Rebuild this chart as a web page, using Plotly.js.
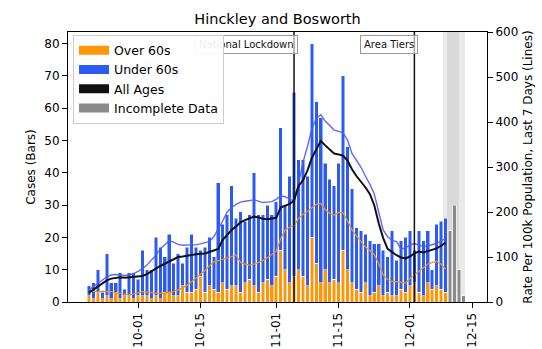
<!DOCTYPE html>
<html>
<head>
<meta charset="utf-8">
<script src="https://cdn.plot.ly/plotly-3.0.1.min.js"></script>
<style>
  html, body { margin: 0; padding: 0; background: #fff; }
  #chart { width: 542px; height: 349px; }
</style>
</head>
<body>
<div id="chart"></div>
<script>
// ---- Data ----
const firstDate = '2020-09-20';          // first complete day of data
const chartTitle = 'Hinckley and Bosworth';

// Daily cases, over 60s (bars, left axis)
const over60Cases = [2,1,3,1,2,1,3,1,2,2,1,2,2,2,1,2,1,3,3,2,2,5,3,3,4,8,3,5,4,3,
  6,4,5,5,3,6,7,5,3,6,7,5,8,16,10,6,8,10,8,5,20,12,6,10,6,7,6,16,10,6,
  4,3,6,2,3,5,2,3,2,2,4,3,5,6,3,2,6,4,5,4,3];

// Daily cases, under 60s (bars, left axis)
const under60Cases = [3,5,7,2,13,5,3,8,2,7,8,5,14,8,9,18,16,11,18,10,13,7,14,18,13,8,14,15,10,34,
  18,23,31,21,25,19,20,35,24,21,23,22,23,38,20,33,57,34,36,34,60,50,51,33,32,29,37,54,38,29,
  19,19,15,17,15,13,14,11,20,11,15,17,17,10,19,17,16,6,19,21,23];

// Incomplete data (grey bars, left axis)
const incompleteStart = '2020-12-10';
const incompleteCases = [22, 30, 10, 2];

// Rate per 100k population, last 7 days (lines, right axis)
const rateOver60 = [23,24,22,24,23,23,21,19,17,16,18,21,23,22,21,20,19,20,22,23,27,32,37,45,53,60,70,80,89,92,
  95,97,101,104,88,84,82,84,88,92,98,105,113,140,160,166,170,185,195,201,210,217,219,205,197,193,199,198,180,160,
  147,135,122,115,105,85,60,50,46,45,43,42,52,60,67,74,84,88,90,84,73];
const rateUnder60 = [27,34,42,50,56,60,61,60,59,60,63,68,74,82,92,104,118,128,136,133,128,126,127,127,127,129,132,134,145,162,
  180,200,210,217,222,224,226,227,224,221,222,223,228,236,234,229,224,262,310,345,385,408,416,402,392,382,379,376,360,330,
  315,300,280,262,240,200,160,145,137,134,118,120,127,130,127,123,125,127,130,136,141];
const rateAllAges = [21,28,36,42,48,52,53,55,54,55,56,56,58,62,68,75,80,85,90,95,100,101,103,104,106,107,108,111,114,118,
  138,150,160,168,177,182,186,190,188,185,184,185,187,210,214,218,225,258,270,292,320,340,358,348,338,330,328,325,314,295,
  280,268,255,240,215,175,142,118,110,104,99,97,101,108,112,110,113,116,119,125,132];

// Events (vertical lines)
const eventDates  = ['2020-11-05', '2020-12-02'];
const eventLabels = ['National Lockdown', 'Area Tiers'];

// Axis ticks
const xTickVals = ['2020-10-01','2020-10-15','2020-11-01','2020-11-15','2020-12-01','2020-12-15'];
const xTickText = ['10-01','10-15','11-01','11-15','12-01','12-15'];
const yTickVals = [0,10,20,30,40,50,60,70,80];
const y2TickVals = [0,100,200,300,400,500,600];

// ---- Helpers ----
function dateSeq(start, n) {
  const out = [];
  const d0 = new Date(start + 'T00:00:00Z');
  for (let i = 0; i < n; i++) {
    const d = new Date(d0.getTime() + i * 86400000);
    out.push(d.toISOString().slice(0, 10));
  }
  return out;
}
const dates = dateSeq(firstDate, over60Cases.length);
const incDates = dateSeq(incompleteStart, incompleteCases.length);

const DAY = 86400000;
const FONT = 'DejaVu Sans, Liberation Sans, sans-serif';
const ORANGE = '#ff960a';
const BLUE = '#2d5af0';
const GREY = '#8a8a8a';

const barStyle = { line: { color: '#ffffff', width: 0.5 } };

const traces = [
  { type: 'bar', x: dates, y: over60Cases, name: 'Over 60s', showlegend: false,
    marker: Object.assign({ color: ORANGE }, barStyle), width: 0.8 * DAY, yaxis: 'y' },
  { type: 'bar', x: dates, y: under60Cases, name: 'Under 60s', showlegend: false,
    marker: Object.assign({ color: BLUE }, barStyle), width: 0.8 * DAY, yaxis: 'y' },
  { type: 'bar', x: incDates, y: incompleteCases, name: 'Incomplete Data', showlegend: false,
    marker: Object.assign({ color: GREY }, barStyle), width: 0.8 * DAY, yaxis: 'y' },
  { type: 'scatter', mode: 'lines', x: dates, y: rateOver60, name: 'Over 60s rate', showlegend: false,
    line: { color: '#ec9410', width: 1.3 }, yaxis: 'y2' },
  { type: 'scatter', mode: 'lines', x: dates, y: rateUnder60, name: 'Under 60s rate', showlegend: false,
    line: { color: 'rgba(80,90,240,0.9)', width: 1.4 }, yaxis: 'y2' },
  { type: 'scatter', mode: 'lines', x: dates, y: rateAllAges, name: 'All Ages', showlegend: false,
    line: { color: '#111111', width: 2 }, yaxis: 'y2' },
  // legend entries (patch-style keys, as in the original)
  { type: 'scatter', mode: 'lines', x: [null], y: [null], name: 'Over 60s', line: { color: ORANGE, width: 9 }, yaxis: 'y2', hoverinfo: 'skip' },
  { type: 'scatter', mode: 'lines', x: [null], y: [null], name: 'Under 60s', line: { color: BLUE, width: 9 }, yaxis: 'y2', hoverinfo: 'skip' },
  { type: 'scatter', mode: 'lines', x: [null], y: [null], name: 'All Ages', line: { color: '#111111', width: 9 }, yaxis: 'y2', hoverinfo: 'skip' },
  { type: 'scatter', mode: 'lines', x: [null], y: [null], name: 'Incomplete Data', line: { color: GREY, width: 9 }, yaxis: 'y2', hoverinfo: 'skip' }
];

const shapes = [
  // shaded band marking incomplete data
  { type: 'rect', xref: 'x', yref: 'paper', x0: '2020-12-08 10:00', x1: '2020-12-13 08:00', y0: 0, y1: 1,
    fillcolor: 'rgba(150,150,150,0.2)', line: { width: 0 }, layer: 'below' },
  { type: 'rect', xref: 'x', yref: 'paper', x0: '2020-12-09 08:00', x1: '2020-12-12 00:00', y0: 0, y1: 1,
    fillcolor: 'rgba(150,150,150,0.2)', line: { width: 0 }, layer: 'below' }
];
const annotations = [];
eventDates.forEach((d, k) => {
  shapes.push({ type: 'line', xref: 'x', yref: 'paper', x0: d, x1: d, y0: 0, y1: 1,
    line: { color: '#111', width: 1.5 }, layer: 'above' });
  annotations.push({ xref: 'x', yref: 'paper', x: d, y: 1, xanchor: 'right', yanchor: 'top',
    xshift: 4, yshift: -3, text: eventLabels[k], showarrow: false,
    font: { family: FONT, size: 10, color: '#111' },
    bgcolor: 'rgba(255,255,255,0.6)', bordercolor: '#999', borderwidth: 1, borderpad: 3 });
});

const layout = {
  width: 542, height: 349,
  margin: { l: 68, r: 55, t: 32, b: 47, pad: 0 },
  paper_bgcolor: '#ffffff', plot_bgcolor: '#ffffff',
  font: { family: FONT, size: 12, color: '#000' },
  title: { text: chartTitle, font: { family: FONT, size: 14.5, color: '#000' },
           x: 0.512, xanchor: 'center', y: 0.947, yanchor: 'middle', yref: 'container' },
  barmode: 'stack',
  bargap: 0,
  showlegend: true,
  legend: { x: 0.012, y: 0.99, xanchor: 'left', yanchor: 'top', traceorder: 'normal',
            bgcolor: 'rgba(255,255,255,0.92)', bordercolor: '#cccccc', borderwidth: 1,
            font: { family: FONT, size: 12.5, color: '#000' }, tracegroupgap: 0 },
  xaxis: {
    type: 'date', range: ['2020-09-15 07:00', '2020-12-18 07:00'],
    tickmode: 'array', tickvals: xTickVals, ticktext: xTickText, tickangle: -90,
    ticks: 'outside', ticklen: 5, tickcolor: '#000', tickwidth: 1,
    showline: true, linecolor: '#000', linewidth: 1, mirror: true,
    showgrid: false, zeroline: false,
    tickfont: { family: FONT, size: 12, color: '#000' }
  },
  yaxis: {
    range: [0, 83.6], tickmode: 'array', tickvals: yTickVals,
    ticks: 'outside', ticklen: 5, tickcolor: '#000', tickwidth: 1,
    showline: true, linecolor: '#000', linewidth: 1,
    showgrid: false, zeroline: false,
    tickfont: { family: FONT, size: 12, color: '#000' },
    title: { text: 'Cases (Bars)', font: { family: FONT, size: 12, color: '#000' }, standoff: 6 }
  },
  yaxis2: {
    overlaying: 'y', side: 'right', range: [0, 600], tickmode: 'array', tickvals: y2TickVals,
    ticks: 'outside', ticklen: 5, tickcolor: '#000', tickwidth: 1,
    showline: true, linecolor: '#000', linewidth: 1,
    showgrid: false, zeroline: false,
    tickfont: { family: FONT, size: 12, color: '#000' },
    title: { text: 'Rate Per 100k Population, Last 7 Days (Lines)', font: { family: FONT, size: 12, color: '#000' }, standoff: 6 }
  },
  shapes: shapes,
  annotations: annotations
};

Plotly.newPlot('chart', traces, layout, { staticPlot: true, displayModeBar: false }).then(gd => {
  // keep the legend drawn on top of the event labels, as in the original
  const leg = gd.querySelector('g.legend');
  const svgs = gd.querySelectorAll('svg.main-svg');
  if (leg && svgs.length) svgs[svgs.length - 1].appendChild(leg);
});
</script>
</body>
</html>
